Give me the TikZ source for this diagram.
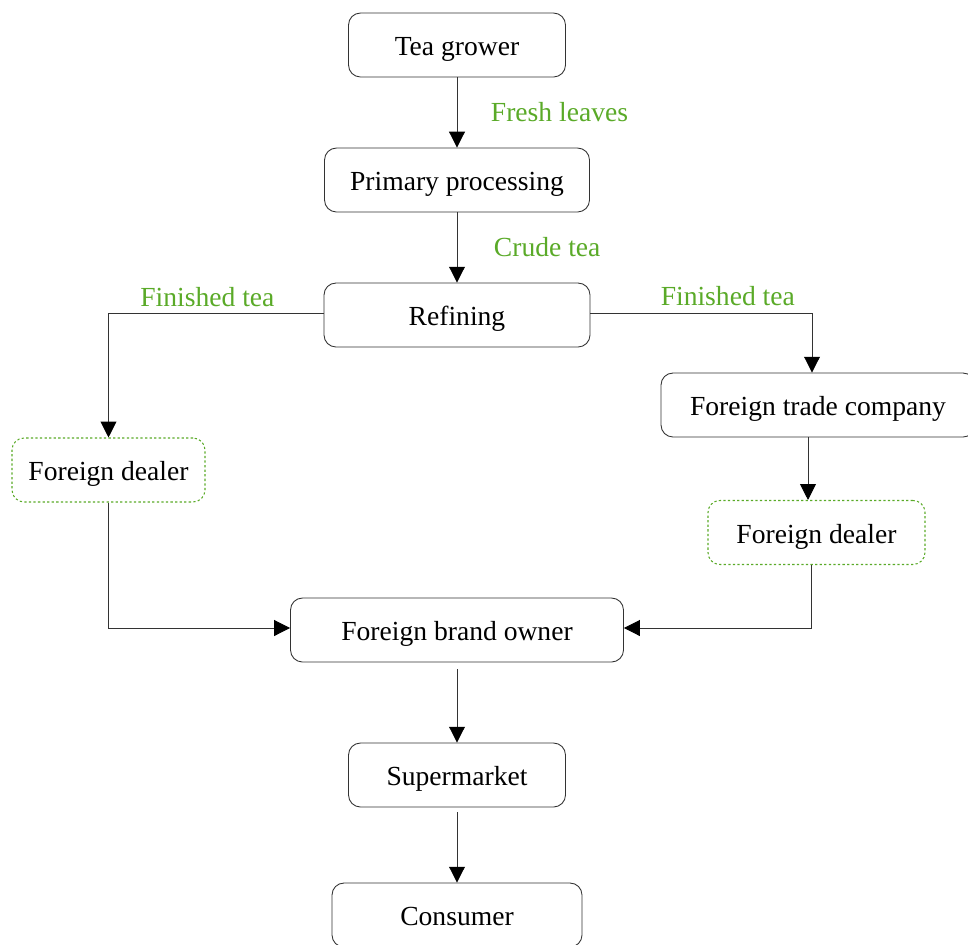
\documentclass[tikz,border=0pt]{standalone}
\usepackage{fontspec}
\setmainfont{Liberation Serif}
\usetikzlibrary{arrows.meta,positioning}
\definecolor{leafgreen}{RGB}{90,170,40}

\begin{document}
\begin{tikzpicture}[>={Triangle[length=9pt,width=9pt,color=black]},node distance=2.7cm,
                    line width=0.5pt,font=\fontsize{15.7}{18}\selectfont,
                    main node/.style={rectangle,draw=black!80,rounded corners=0.24cm,minimum height=1.28cm,
                                      text height=12.4pt,text depth=0pt},
                    dealer node/.style={main node,draw=leafgreen,line width=0.6pt,dash pattern=on 1.3pt off 1.3pt},
                    flow label/.style={text=leafgreen,inner sep=2pt}]
  \useasboundingbox (0,0) rectangle (19.36,-18.9);
  \node[main node,minimum width=4.34cm] (grower) at (9.14,-0.9) {Tea grower};
  \node[main node,minimum width=5.3cm] (primary) [below of=grower] {Primary processing};
  \node[main node,minimum width=5.32cm] (refining) [below of=primary] {Refining};
  \node[main node,minimum width=6.28cm] (trade) at (16.36,-8.1) {Foreign trade company};
  \node[dealer node,minimum width=3.86cm] (dealerL) at (2.17,-9.4) {Foreign dealer};
  \node[dealer node,minimum width=4.34cm] (dealerR) at (16.33,-10.65) {Foreign dealer};
  \node[main node,minimum width=6.66cm] (brand) [below of=refining,node distance=6.3cm] {Foreign brand owner};
  \node[main node,minimum width=4.34cm] (market) [below of=brand,node distance=2.9cm] {Supermarket};
  \node[main node,minimum width=5cm] (consumer) [below of=market,node distance=2.8cm] {Consumer};
  \path[->,every edge/.style={draw=black!80}]
    (grower) edge node[flow label,right=0.6cm] {Fresh leaves} (primary)
    (primary) edge node[flow label,right=0.66cm] {Crude tea} (refining)
    ([xshift=-0.17cm]dealerR.north |- trade.south) edge ([xshift=-0.17cm]dealerR.north)
    ([yshift=-0.14cm]brand.south) edge (market)
    ([yshift=-0.1cm]market.south) edge (consumer);
  \draw[->,black!80] ([yshift=0.04cm]refining.west) -| node[flow label,above=1.5pt,pos=0.27] {Finished tea} (dealerL.north);
  \draw[->,black!80] ([yshift=0.04cm]refining.east) -| node[flow label,above=2pt,pos=0.31] {Finished tea} ([xshift=-0.12cm]trade.north);
  \draw[->,black!80] (dealerL.south) |- ([yshift=0.04cm]brand.west);
  \draw[->,black!80] ([xshift=-0.1cm]dealerR.south) |- ([yshift=0.04cm]brand.east);
\end{tikzpicture}
\end{document}
